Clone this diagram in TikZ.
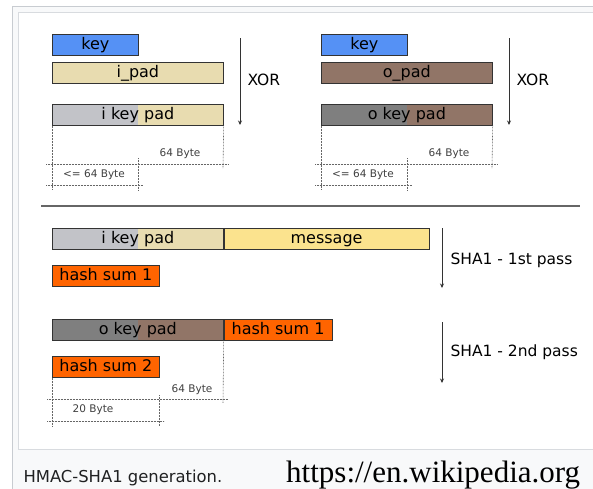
\documentclass[tikz,border=0pt]{standalone}
\usepackage{fontspec}
\setmainfont{DejaVu Sans}
\newfontfamily\urlfont{Liberation Serif}
\usetikzlibrary{arrows.meta}
\definecolor{keyblue}{HTML}{5591F5}
\definecolor{ipadbeige}{HTML}{E8DCB0}
\definecolor{opadbrown}{HTML}{917567}
\definecolor{ikeygray}{HTML}{C2C3C8}
\definecolor{okeygray}{HTML}{7F7F7F}
\definecolor{msgyellow}{HTML}{FBE38E}
\definecolor{hashorange}{HTML}{FF6400}
\definecolor{framegray}{HTML}{C8CCD1}
\definecolor{capbg}{HTML}{F8F9FA}
\definecolor{captext}{HTML}{202122}
\tikzset{
  bar/.style={draw=black!80, line width=0.7pt, minimum height=21pt, inner sep=0pt,
    anchor=north west, text height=12pt, text depth=3.5pt, font=\fontsize{16}{18}\selectfont},
  halfgray/.style={path picture={\fill[#1] (path picture bounding box.north west)
    rectangle ([xshift=86pt]path picture bounding box.south west);}},
  pass/.style={draw=black!80, line width=0.7pt, -{Stealth[length=4.5pt,width=4pt]}},
  passlabel/.style={anchor=west, font=\fontsize{15.5}{17}\selectfont},
  dim/.style={draw=black!60, line width=0.6pt, dash pattern=on 0.7pt off 0.8pt},
  bytes/.style={font=\fontsize{10.5}{12}\selectfont, text=black!75}
}

\begin{document}
\begin{tikzpicture}[x=1pt, y=-1pt]
		%%%%% START %%%%%
		\useasboundingbox (0,0) rectangle (593,488);
		\begin{scope}
		\clip (0,0) rectangle (593,488);
		\draw[framegray, fill=capbg] (12,6) rectangle (610,500);
		\draw[framegray!70, fill=white] (18,12) rectangle (605,449);
		
		% inner key
		\node[bar, fill=keyblue, minimum width=86pt] (keyi) at (52,34) {key};
		\node[bar, fill=ipadbeige, minimum width=171pt] (ipad) at (52,62) {i\_pad};
		\node[bar, fill=ipadbeige, halfgray=ikeygray, minimum width=171pt] (ikeypad) at (52,104) {i key pad};
		\coordinate (xori-a) at (240,38);
		\coordinate (xori-b) at (240,125);
		\draw[pass] (xori-a) -- (xori-b);
		\node[passlabel] (xori) at (244,80) {XOR};
		
		\draw[dim] (ikeypad.south west) -- (52,190);
		\draw[dim] (ikeypad.south east) -- (223,168);
		\draw[dim] (138,158) -- (138,190);
		\draw[dim] (46,164) -- (228,164);
		\draw[dim] (46,185) -- (143,185);
		\node[bytes] (ifull) at (180,154) {64 Byte};
		\node[bytes] (ikeylen) at (94,175) {<= 64 Byte};
		
		% outer key
		\node[bar, fill=keyblue, minimum width=86pt] (keyo) at (321,34) {key};
		\node[bar, fill=opadbrown, minimum width=171pt] (opad) at (321,62) {o\_pad};
		\node[bar, fill=opadbrown, halfgray=okeygray, minimum width=171pt] (okeypad) at (321,104) {o key pad};
		\coordinate (xoro-a) at (509,38);
		\coordinate (xoro-b) at (509,125);
		\draw[pass] (xoro-a) -- (xoro-b);
		\node[passlabel] (xoro) at (513,80) {XOR};
		
		\draw[dim] (okeypad.south west) -- (321,190);
		\draw[dim] (okeypad.south east) -- (492,168);
		\draw[dim] (407,158) -- (407,190);
		\draw[dim] (315,164) -- (497,164);
		\draw[dim] (315,185) -- (412,185);
		\node[bytes] (ofull) at (449,154) {64 Byte};
		\node[bytes] (okeylen) at (363,175) {<= 64 Byte};
		
		\draw[black!60, line width=1.2pt] (41,206) -- (580,206);
		
		% first pass
		\node[bar, fill=ipadbeige, halfgray=ikeygray, minimum width=171pt] (ikeypad2) at (52,228) {i key pad};
		\node[bar, fill=msgyellow, minimum width=205pt] (message) at (ikeypad2.north east) {message};
		\node[bar, fill=hashorange, minimum width=107pt] (hash1) at (52,265) {hash sum 1};
		\coordinate (sha1-a) at (442,228);
		\coordinate (sha1-b) at (442,288);
		\draw[pass] (sha1-a) -- (sha1-b);
		\node[passlabel] (first) at (447,260) {SHA1 - 1st pass};
		
		% second pass
		\node[bar, fill=opadbrown, halfgray=okeygray, minimum width=171pt] (okeypad2) at (52,319) {o key pad};
		\node[bar, fill=hashorange, minimum width=108pt] (hash1b) at (okeypad2.north east) {hash sum 1};
		\node[bar, fill=hashorange, minimum width=107pt] (hash2) at (52,356) {hash sum 2};
		\coordinate (sha2-a) at (442,322);
		\coordinate (sha2-b) at (442,383);
		\draw[pass] (sha2-a) -- (sha2-b);
		\node[passlabel] (second) at (447,352) {SHA1 - 2nd pass};
		
		\draw[dim] (hash2.south west) -- (52,426);
		\draw[dim] (okeypad2.south east) -- (223,403);
		\draw[dim] (159,395) -- (159,426);
		\draw[dim] (47,399) -- (228,399);
		\draw[dim] (47,421) -- (164,421);
		\node[bytes] (msgfull) at (192,390) {64 Byte};
		\node[bytes] (hashlen) at (93,410) {20 Byte};
		
		% caption
		\node[anchor=west, text=captext, font=\fontsize{16.4}{18}\selectfont] (caption) at (20,478) {HMAC-SHA1 generation.};
		\node[anchor=west, inner sep=0pt, font=\urlfont\fontsize{31}{33}\selectfont] (source) at (286,475) {https://en.wikipedia.org};
		\end{scope}
		%%%%% END %%%%%
	\end{tikzpicture}
\end{document}
